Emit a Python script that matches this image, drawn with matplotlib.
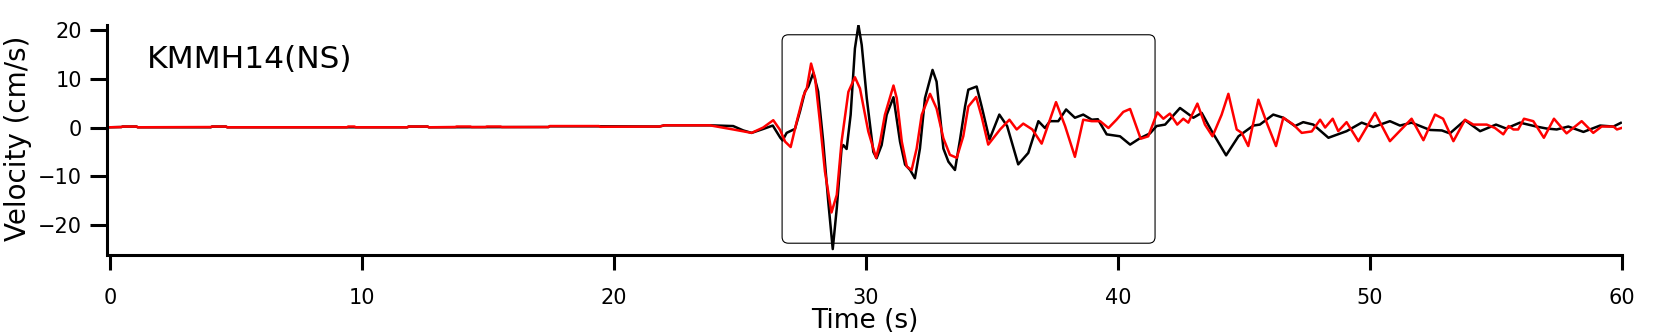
import matplotlib
matplotlib.use("Agg")
import matplotlib.pyplot as plt
from matplotlib.patches import FancyBboxPatch

# Velocity waveforms (time in s, velocity in cm/s)
t_black = [0, 0.45, 0.5, 1.05, 1.1, 4.0, 4.05, 4.6, 4.65, 11.8, 11.85, 12.6, 12.65,
           17.4, 17.45, 19.4, 21.8, 22.0, 23.8, 24.73, 25.13, 25.46, 25.92, 26.3,
           26.6, 26.69, 26.85, 27.05, 27.18, 27.38, 27.58, 27.71, 27.91, 28.1, 28.3,
           28.5, 28.68, 28.84, 29.03, 29.1, 29.23, 29.39, 29.56, 29.7, 29.83, 30.03,
           30.29, 30.42, 30.62, 30.82, 31.09, 31.35, 31.55, 31.75, 31.94, 32.14,
           32.34, 32.64, 32.8, 33.07, 33.27, 33.53, 33.73, 33.93, 34.06, 34.39,
           34.59, 34.9, 35.29, 35.6, 36.04, 36.44, 36.84, 37.1, 37.3, 37.63, 37.94,
           38.29, 38.62, 38.96, 39.2, 39.55, 40.08, 40.48, 40.87, 41.27, 41.53,
           41.87, 42.46, 42.99, 43.32, 43.72, 44.29, 44.78, 45.37, 45.63, 46.16,
           46.56, 47.02, 47.35, 47.75, 48.35, 49.07, 49.67, 50.13, 50.79, 51.19,
           51.65, 52.38, 52.85, 53.17, 53.77, 54.37, 55.0, 55.4, 55.95, 56.6, 57.0,
           57.41, 57.87, 58.47, 59.13, 59.66, 59.95]
v_black = [0.05, 0.1, 0.2, 0.2, 0.05, 0.05, 0.2, 0.2, 0.05, 0.05, 0.2, 0.2, 0.05,
           0.1, 0.25, 0.25, 0.2, 0.45, 0.45, 0.3, -0.6, -1.1, -0.3, 0.4,
           -2.1, -2.65, -1.1, -0.6, -0.3, 3.3, 7.4, 8.4, 11.2, 7.4, -2.8,
           -15.1, -24.9, -16.5, -4.3, -3.6, -4.4, 2.6, 16.2, 21.0, 16.9, 6.0,
           -5.0, -6.3, -3.6, 2.6, 6.2, -2.9, -7.6, -8.7, -10.4, -4.3,
           6.0, 11.8, 9.4, -4.3, -7.0, -8.7, -2.5, 4.3, 7.75, 8.4,
           4.3, -2.45, 2.65, 0.3, -7.55, -5.2, 1.3, -0.1, 1.3, 1.3, 3.7,
           2.0, 2.65, 1.6, 1.7, -1.4, -1.8, -3.5, -2.2, -1.2, 0.3,
           0.6, 4.0, 2.0, 3.0, -0.75, -5.7, -1.8, 0.4, 0.6, 2.65,
           2.0, 0.3, 1.1, 0.6, -2.1, -0.75, 1.0, 0.1, 1.3, 0.4,
           1.0, -0.5, -0.6, -1.2, 1.5, -0.75, 0.6, -0.2, 1.0, 0.2, -0.2,
           -0.4, 0.2, -0.9, 0.4, 0.2, 0.95]

t_red = [0, 0.45, 0.5, 1.05, 1.1, 4.0, 4.05, 4.6, 4.65, 9.4, 9.45, 9.7, 9.75, 11.8,
         11.85, 12.6, 12.65, 13.7, 13.75, 14.3, 14.35, 14.9, 14.95, 15.5, 15.55,
         17.4, 17.45, 19.4, 19.45, 21.8, 22.0, 23.8, 24.73, 25.46, 25.92, 26.32,
         26.59, 26.79, 27.01, 27.25, 27.51, 27.65, 27.82, 27.98, 28.17, 28.37,
         28.63, 28.84, 29.03, 29.3, 29.56, 29.76, 30.09, 30.4, 30.56, 30.75, 31.09,
         31.22, 31.42, 31.62, 31.81, 32.01, 32.21, 32.54, 32.8, 33.07, 33.33, 33.6,
         33.86, 34.06, 34.37, 34.59, 34.85, 35.32, 35.69, 35.98, 36.24, 36.6,
         36.97, 37.54, 37.9, 38.29, 38.62, 38.96, 39.29, 39.62, 39.94, 40.21,
         40.48, 40.9, 41.2, 41.56, 41.8, 42.06, 42.35, 42.59, 42.79, 43.15, 43.45,
         43.75, 44.11, 44.38, 44.71, 44.91, 45.17, 45.57, 45.9, 46.27, 46.56,
         46.96, 47.29, 47.69, 48.02, 48.22, 48.52, 48.74, 49.07, 49.54, 50.2,
         50.79, 51.65, 52.12, 52.58, 52.9, 53.31, 53.77, 54.1, 54.63, 54.96, 55.29,
         55.5, 55.69, 55.88, 56.11, 56.48, 56.9, 57.3, 57.8, 58.4, 58.86, 59.19,
         59.66, 59.8, 59.98]
v_red = [0.05, 0.1, 0.2, 0.2, 0.05, 0.1, 0.2, 0.2, 0.05, 0.05, 0.2, 0.2, 0.05, 0.05,
         0.2, 0.2, 0.05, 0.1, 0.2, 0.2, 0.1, 0.1, 0.2, 0.2, 0.1,
         0.1, 0.3, 0.3, 0.15, 0.2, 0.45, 0.45, -0.4, -1.1, 0.0, 1.5,
         -0.5, -2.9, -4.0, 1.2, 6.4, 8.0, 13.1, 10.1, 1.2, -9.0,
         -17.4, -13.8, -2.9, 7.3, 10.3, 8.0, -0.8, -6.2, -2.9, 2.6, 8.6,
         6.0, -2.9, -8.0, -8.7, -4.3, 2.6, 6.9, 3.9, -2.2, -5.6, -6.2,
         -1.8, 4.3, 6.25, 2.2, -3.5, -0.4, 1.6, -0.4, 0.8, -0.4,
         -3.3, 5.2, 0.3, -6.0, 1.6, 1.3, 1.3, -0.1, 1.6, 3.2,
         3.8, -2.3, -1.8, 3.1, 1.8, 2.85, 0.6, 1.8, 1.0, 4.9, 0.6,
         -1.8, 2.6, 6.9, -0.4, -1.1, -3.8, 5.7, 1.0, -3.8, 2.0,
         0.6, -1.1, -0.8, 1.6, 0.0, 1.8, -0.75, 1.1, -2.8, 3.0,
         -2.8, 1.8, -2.6, 2.65, 1.8, -2.8, 1.6, 0.6, 0.6, -0.1, -1.4,
         0.3, -0.4, -0.4, 1.8, 1.3, -2.1, 1.8, -1.2, 1.3, -1.1, 0.2,
         0.2, -0.4, -0.1]

station = "KMMH14(NS)"
window = (26.67, 41.47)      # highlighted time window (s)
window_v = (-23.7, 19.0)     # vertical extent of the highlight box
y_ticks = [-20, -10, 0, 10, 20]
x_ticks = [0, 10, 20, 30, 40, 50, 60]

fig = plt.figure(figsize=(16.72, 3.33), dpi=100)
ax = fig.add_axes([107 / 1672, 1 - 252 / 333, (1622 - 107) / 1672, (252 - 25) / 333])

ax.plot(t_black, v_black, color="black", lw=1.8, solid_joinstyle="round")
ax.plot(t_red, v_red, color="#ff0000", lw=1.8, solid_joinstyle="round")

# rounded box around the main shaking
box = FancyBboxPatch((window[0], window_v[0]), window[1] - window[0],
                     window_v[1] - window_v[0],
                     boxstyle="round,pad=0,rounding_size=0.25",
                     mutation_aspect=5.2, fill=False, ec="black", lw=0.8)
ax.add_patch(box)

ax.text(1.47, 12.2, station, fontsize=22.5, va="baseline", ha="left")

ax.set_xlim(-0.12, 60)
ax.set_ylim(-25.5, 21.0)
ax.set_xticks(x_ticks)
ax.set_yticks(y_ticks)

for s in ["top", "right"]:
    ax.spines[s].set_visible(False)
ax.spines["left"].set_linewidth(2.2)
ax.spines["bottom"].set_linewidth(2.2)
ax.spines["bottom"].set_position(("outward", 2))

ax.tick_params(axis="y", direction="out", length=12, width=2.2, labelsize=15, pad=6)
ax.tick_params(axis="x", direction="out", length=11, width=2.2, labelsize=15, pad=13)

ax.set_ylabel("Velocity (cm/s)", fontsize=20, labelpad=4)
ax.set_xlabel("Time (s)", fontsize=19, labelpad=0)

fig.savefig("out.png", dpi=100)
